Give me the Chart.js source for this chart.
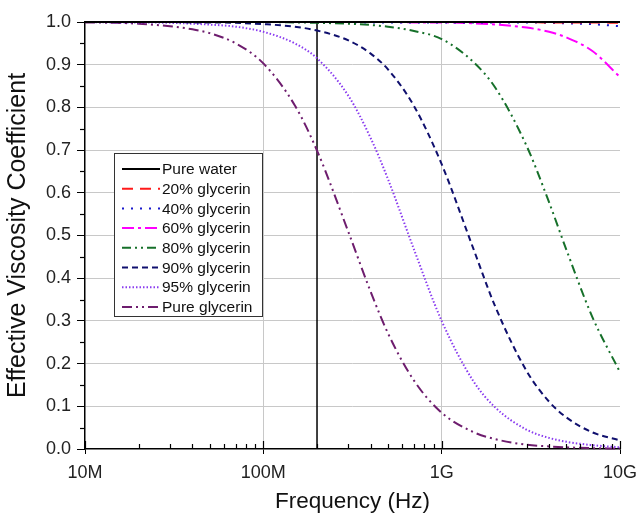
<!DOCTYPE html>
<html>
<head>
<meta charset="utf-8">
<script src="https://cdn.jsdelivr.net/npm/chart.js@4.4.1/dist/chart.umd.min.js"></script>
<style>
  html, body { margin: 0; padding: 0; background: #fff; }
  #wrap { width: 639px; height: 522px; position: relative; }
</style>
</head>
<body>
<div id="wrap"><canvas id="chart"></canvas></div>
<script>
// Frequency samples (Hz) shared by every curve
const freqHz = [1e7, 1.5e7, 2e7, 3e7, 4e7, 5e7, 7e7, 1e8, 1.5e8, 2e8, 3e8, 4e8, 5e8, 7e8,
  1e9, 1.5e9, 2e9, 3e9, 4e9, 5e9, 7e9, 1e10];

// Effective viscosity coefficient
const pureWater = [1, 1, 1, 1, 1, 1, 1, 1, 1, 1, 1, 1, 1, 1, 1, 1, 1, 1, 1, 1, 1, 1];
const gly20 = [1, 1, 1, 1, 1, 1, 1, 1, 1, 1, 1, 1, 1, 1, 1, 1, 1, 1, 0.999, 0.999, 0.999, 0.998];
const gly40 = [1, 1, 1, 1, 1, 1, 1, 1, 1, 1, 1, 0.999, 0.999, 0.999, 0.999, 0.999, 0.999, 0.999, 0.998, 0.997, 0.995, 0.990];
const gly60 = [1, 1, 1, 1, 1, 1, 1, 1, 1, 1, 1, 1, 1, 0.999, 0.999, 0.997, 0.994, 0.987, 0.977, 0.964, 0.932, 0.871];
const gly80 = [1, 1, 1, 1, 1, 1, 1, 1, 0.999, 0.998, 0.996, 0.993, 0.989, 0.979, 0.960, 0.907, 0.846, 0.709, 0.578, 0.467, 0.309, 0.180];
const gly90 = [1, 1, 1, 1, 0.999, 0.999, 0.998, 0.995, 0.989, 0.980, 0.957, 0.926, 0.889, 0.803, 0.667, 0.471, 0.333, 0.182, 0.111, 0.074, 0.039, 0.020];
const gly95 = [1, 0.999, 0.999, 0.998, 0.996, 0.994, 0.989, 0.977, 0.950, 0.915, 0.827, 0.728, 0.632, 0.467, 0.300, 0.160, 0.097, 0.045, 0.026, 0.017, 0.009, 0.004];
const pureGly = [0.999, 0.998, 0.996, 0.990, 0.983, 0.974, 0.950, 0.903, 0.805, 0.699, 0.508, 0.368, 0.271, 0.160, 0.085, 0.040, 0.023, 0.010, 0.006, 0.004, 0.002, 0.001];

// Marker line at 200 MHz
const markerFreq = 2e8;
const markerRange = [0, 1];

const seriesLabels = ['Pure water', '20% glycerin', '40% glycerin', '60% glycerin',
  '80% glycerin', '90% glycerin', '95% glycerin', 'Pure glycerin'];
const seriesValues = [pureWater, gly20, gly40, gly60, gly80, gly90, gly95, pureGly];

const xTickValues = [1e7, 1e8, 1e9, 1e10];
const xTickLabels = ['10M', '100M', '1G', '10G'];

const FONT = '"Liberation Sans", Arial, sans-serif';

const styles = [
  { color: '#000000', dash: [] },
  { color: '#ff1a1a', dash: [11, 7] },
  { color: '#1a1acc', dash: [2, 7] },
  { color: '#ff00ff', dash: [12, 4, 3, 4] },
  { color: '#16702a', dash: [9, 4, 2, 4, 2, 4] },
  { color: '#10106e', dash: [6, 4] },
  { color: '#8a3cf0', dash: [1.5, 2] },
  { color: '#6e1d6e', dash: [10, 4, 2, 4, 2, 4] },
];

const datasets = seriesValues.map((vals, i) => ({
  label: seriesLabels[i],
  data: freqHz.map((f, j) => ({ x: f, y: vals[j] })),
  borderColor: styles[i].color,
  borderDash: styles[i].dash,
  borderWidth: 2,
  pointRadius: 0,
  cubicInterpolationMode: 'monotone',
  clip: 4,
  inLegend: true,
}));

datasets.push({
  label: 'marker',
  data: markerRange.map((v) => ({ x: markerFreq, y: v })),
  borderColor: '#000',
  borderWidth: 1.5,
  pointRadius: 0,
  inLegend: false,
});

// minor ticks + framed legend
const decor = {
  id: 'decor',
  afterDraw(chart) {
    const { ctx, chartArea: a, scales: { x, y } } = chart;
    ctx.save();
    ctx.strokeStyle = '#000';
    ctx.lineWidth = 1.2;
    for (let d = 1e7; d < 1e10; d *= 10) {
      for (let k = 2; k <= 9; k++) {
        const px = Math.round(x.getPixelForValue(d * k)) + 0.5;
        ctx.beginPath();
        ctx.moveTo(px, a.bottom);
        ctx.lineTo(px, a.bottom - 5);
        ctx.stroke();
      }
    }
    for (const v of xTickValues) {
      const px = Math.round(x.getPixelForValue(v)) + 0.5;
      ctx.beginPath();
      ctx.moveTo(px, a.bottom);
      ctx.lineTo(px, a.bottom - 8);
      ctx.stroke();
    }
    for (let v = 0.05; v < 1; v += 0.1) {
      const py = Math.round(y.getPixelForValue(v)) + 0.5;
      ctx.beginPath();
      ctx.moveTo(a.left, py);
      ctx.lineTo(a.left - 5, py);
      ctx.stroke();
    }

    // legend box
    const bx = 114, by = 153, bw = 148, bh = 163, rowH = 19.7, firstRow = 169;
    ctx.fillStyle = '#fff';
    ctx.fillRect(bx, by, bw, bh);
    ctx.strokeStyle = '#333';
    ctx.lineWidth = 1;
    ctx.strokeRect(bx + 0.5, by + 0.5, bw, bh);
    ctx.font = '15.5px ' + FONT;
    ctx.textBaseline = 'middle';
    ctx.textAlign = 'left';
    chart.data.datasets.filter((d) => d.inLegend).forEach((d, i) => {
      const ry = firstRow + i * rowH;
      ctx.strokeStyle = d.borderColor;
      ctx.lineWidth = 2;
      ctx.setLineDash(d.borderDash);
      ctx.beginPath();
      ctx.moveTo(122, ry);
      ctx.lineTo(160, ry);
      ctx.stroke();
      ctx.setLineDash([]);
      ctx.fillStyle = '#111';
      ctx.fillText(d.label, 162, ry + 1);
    });
    ctx.restore();
  },
};

new Chart(document.getElementById('chart'), {
  type: 'line',
  data: { datasets },
  plugins: [decor],
  options: {
    responsive: true,
    maintainAspectRatio: false,
    animation: false,
    layout: { padding: { left: 0, right: 19, top: 22, bottom: 0 } },
    plugins: { legend: { display: false }, tooltip: { enabled: false } },
    scales: {
      x: {
        type: 'logarithmic',
        min: 1e7,
        max: 1e10,
        afterBuildTicks(scale) { scale.ticks = xTickValues.map((v) => ({ value: v })); },
        afterFit(scale) {
          scale.height = 73;
          scale.paddingLeft = 0;
          scale.paddingRight = 0;
        },
        ticks: {
          color: '#222',
          font: { family: FONT, size: 18 },
          padding: 8,
          maxRotation: 0,
          callback(v) {
            const i = xTickValues.indexOf(v);
            return i >= 0 ? xTickLabels[i] : '';
          },
        },
        grid: {
          color: (c) => (c.tick && c.tick.value > 1e7 && c.tick.value < 1e10 ? '#c8c8c8' : 'rgba(0,0,0,0)'),
          tickColor: '#000',
          tickLength: 5,
          lineWidth: 1,
        },
        border: { display: true, color: '#000', width: 1.5 },
        title: {
          display: true,
          text: 'Frequency (Hz)',
          color: '#111',
          font: { family: FONT, size: 22.5 },
          padding: { top: 0, bottom: 7 },
        },
      },
      y: {
        min: 0,
        max: 1,
        afterFit(scale) { scale.width = 85; },
        ticks: {
          stepSize: 0.1,
          color: '#222',
          font: { family: FONT, size: 18 },
          padding: 6,
          callback(v) { return v.toFixed(1); },
        },
        grid: {
          color: (c) => (c.tick && c.tick.value > 0.01 && c.tick.value < 0.99 ? '#c8c8c8' : 'rgba(0,0,0,0)'),
          tickColor: '#000',
          tickLength: 8,
          lineWidth: 1,
        },
        border: { display: true, color: '#000', width: 1.5 },
        title: {
          display: true,
          text: 'Effective Viscosity Coefficient',
          color: '#111',
          font: { family: FONT, size: 25 },
          padding: { top: 3, bottom: 0 },
        },
      },
    },
  },
});
</script>
</body>
</html>
